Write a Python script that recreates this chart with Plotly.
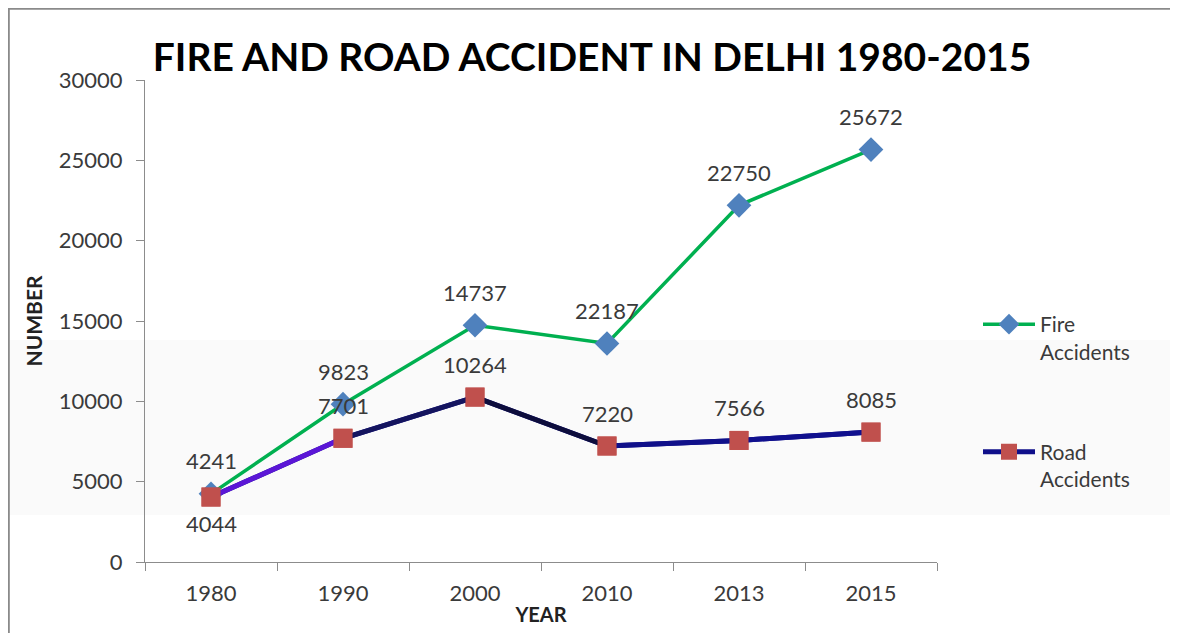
import plotly.graph_objects as go

years = ["1980", "1990", "2000", "2010", "2013", "2015"]
fire_values = [4241, 9823, 14737, 13600, 22200, 25672]
fire_labels = ["4241", "9823", "14737", "22187", "22750", "25672"]
road_values = [4044, 7701, 10264, 7220, 7566, 8085]
road_labels = ["4044", "7701", "10264", "7220", "7566", "8085"]
y_ticks = [0, 5000, 10000, 15000, 20000, 25000, 30000]

OFF = 8  # page body margin
W, H = 1170, 625
L, R, T, B = 145 - OFF, 937 - OFF, 80 - OFF, 562 - OFF


def px(x):  # screen x -> paper x
    return (x - OFF - L) / (R - L)


def py(y):  # screen y -> paper y
    return (B - (y - OFF)) / (B - T)


FONT = "Lato"
TXT = "#3a3a3a"
seg_colors = ["#5b16d6", "#14145e", "#0d0d3c", "#10108a", "#10108e"]

fig = go.Figure()

fig.add_trace(go.Scatter(
    x=years, y=fire_values, name="Fire<br>Accidents", mode="lines+markers",
    line=dict(color="#00b050", width=3.5),
    marker=dict(symbol="diamond", size=19, color="#4f81bd", line=dict(width=0)),
    legendgroup="fire", cliponaxis=False,
))

fig.add_trace(go.Scatter(
    x=years, y=road_values, name="Road<br>Accidents", mode="lines+markers",
    line=dict(color="#0f0f8a", width=5),
    marker=dict(symbol="square", size=19, color="#c0504d", line=dict(width=0)),
    legendgroup="road", cliponaxis=False,
))
for i in range(len(years) - 1):
    fig.add_trace(go.Scatter(
        x=years[i:i + 2], y=road_values[i:i + 2], mode="lines",
        line=dict(color=seg_colors[i], width=5),
        showlegend=False, hoverinfo="skip", cliponaxis=False,
    ))
fig.add_trace(go.Scatter(
    x=years, y=road_values, mode="markers",
    marker=dict(symbol="square", size=19, color="#c0504d", line=dict(width=0)),
    showlegend=False, cliponaxis=False,
))

annotations = []
for i, (v, t) in enumerate(zip(fire_values, fire_labels)):
    annotations.append(dict(x=i, y=v, xref="x", yref="y", text=t, showarrow=False,
                            yshift=33, font=dict(family=FONT, size=22, color=TXT)))
for i, (v, t) in enumerate(zip(road_values, road_labels)):
    annotations.append(dict(x=i, y=v, xref="x", yref="y", text=t, showarrow=False,
                            yshift=-26 if i == 0 else 33,
                            font=dict(family=FONT, size=22, color=TXT)))

shapes = [
    dict(type="rect", xref="paper", yref="paper", x0=px(9), x1=px(1178), y0=py(515), y1=py(340),
         fillcolor="#fafafa", line=dict(width=0), layer="below"),
    dict(type="line", xref="paper", yref="paper", x0=px(8.8), x1=px(8.8), y0=py(8), y1=py(640),
         line=dict(color="#8a8a8a", width=2)),
    dict(type="line", xref="paper", yref="paper", x0=px(8), x1=px(1180), y0=py(8.8), y1=py(8.8),
         line=dict(color="#8a8a8a", width=2)),
]

fig.update_layout(
    width=W, height=H, autosize=False,
    margin=dict(l=L, r=W - R, t=T, b=H - B),
    paper_bgcolor="white", plot_bgcolor="rgba(0,0,0,0)",
    font=dict(family=FONT, size=21, color=TXT),
    title=dict(text="<b>FIRE AND ROAD ACCIDENT IN DELHI 1980-2015</b>",
               x=(592 - OFF) / W, xanchor="center", xref="container",
               y=1 - (57 - OFF) / H, yanchor="middle", yref="container",
               font=dict(family=FONT, size=39, color="black")),
    xaxis=dict(type="category", range=[-0.5, 5.5], tickson="boundaries",
               showline=True, linecolor="#8c8c8c", linewidth=1,
               ticks="outside", ticklen=8, tickcolor="#8c8c8c",
               showgrid=False, zeroline=False, ticklabelstandoff=12,
               tickfont=dict(family=FONT, size=22, color=TXT),
               title=dict(text="<b>YEAR</b>", standoff=2,
                          font=dict(family=FONT, size=20, color="#222"))),
    yaxis=dict(range=[0, 30000], tickvals=y_ticks, ticktext=[str(v) for v in y_ticks],
               showline=True, linecolor="#8c8c8c", linewidth=1,
               ticks="outside", ticklen=8, tickcolor="#8c8c8c",
               showgrid=False, zeroline=False, ticklabelstandoff=9,
               tickfont=dict(family=FONT, size=22, color=TXT),
               title=dict(text="<b>NUMBER</b>", standoff=10,
                          font=dict(family=FONT, size=21, color="#222"))),
    legend=dict(x=px(978), y=py(304), xanchor="left", yanchor="top",
                tracegroupgap=70, bgcolor="rgba(0,0,0,0)", valign="top",
                font=dict(family=FONT, size=21, color=TXT), itemwidth=52),
    annotations=annotations, shapes=shapes,
    showlegend=True,
)

fig.write_html("out.html")
